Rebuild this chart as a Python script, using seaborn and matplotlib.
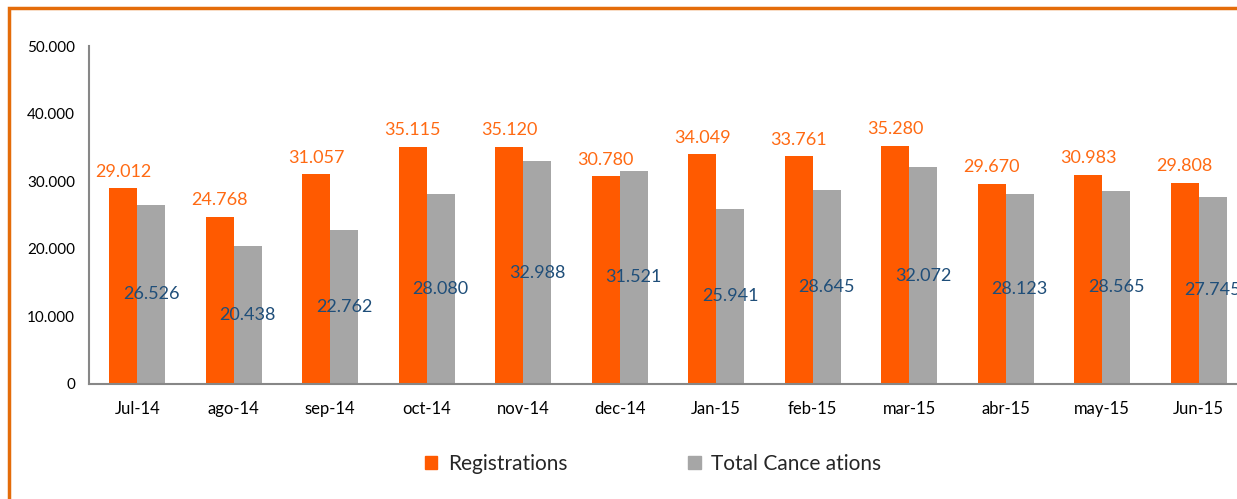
import matplotlib
matplotlib.use("Agg")
import matplotlib.pyplot as plt
import seaborn as sns
import pandas as pd
from matplotlib.patches import Rectangle
from matplotlib.ticker import FuncFormatter

months = ["Jul-14", "ago-14", "sep-14", "oct-14", "nov-14", "dec-14",
          "Jan-15", "feb-15", "mar-15", "abr-15", "may-15", "Jun-15"]
registrations = [29012, 24768, 31057, 35115, 35120, 30780,
                 34049, 33761, 35280, 29670, 30983, 29808]
cancellations = [26526, 20438, 22762, 28080, 32988, 31521,
                 25941, 28645, 32072, 28123, 28565, 27745]
series_names = ["Registrations", "Total Cance ations"]
y_ticks = [0, 10000, 20000, 30000, 40000, 50000]

df = pd.DataFrame({
    "month": months * 2,
    "value": registrations + cancellations,
    "series": [series_names[0]] * len(months) + [series_names[1]] * len(months),
})

sns.set_theme(style="white")
plt.rcParams["font.family"] = ["Lato", "DejaVu Sans"]

fig = plt.figure(figsize=(12.37, 4.99), dpi=100)
ax = fig.add_axes([0.072, 0.2305, 0.936, 0.677])

orange = "#FF5A00"
gray = "#A6A6A6"
sns.barplot(data=df, x="month", y="value", hue="series", order=months,
            hue_order=series_names, palette=[orange, gray], width=0.58,
            saturation=1, ax=ax, legend=False, linewidth=0, edgecolor="none")

fmt = lambda v: f"{v:,.0f}".replace(",", ".")
c_reg, c_can = ax.containers[0], ax.containers[1]
ax.bar_label(c_reg, labels=[fmt(v) for v in registrations], padding=6,
             color="#FF6A13", fontsize=13)
ax.bar_label(c_can, labels=[fmt(v) for v in cancellations], label_type="center",
             color="#1F4E79", fontsize=13)

ax.set_ylim(0, 50000)
ax.set_xlim(-0.5, len(months) - 0.5)
ax.set_yticks(y_ticks)
ax.yaxis.set_major_formatter(FuncFormatter(lambda v, p: fmt(v)))
ax.set_xlabel("")
ax.set_ylabel("")
for s in ["top", "right"]:
    ax.spines[s].set_visible(False)
for s in ["left", "bottom"]:
    ax.spines[s].set_color("#878787")
    ax.spines[s].set_linewidth(1.5)
ax.tick_params(axis="y", which="major", direction="out", length=6, width=1.5,
               color="#878787", labelsize=11, labelcolor="#000000", pad=4)
ax.tick_params(axis="x", which="major", length=0, labelsize=12,
               labelcolor="#000000", pad=12)
ax.set_xticks([i + 0.5 for i in range(-1, len(months))], minor=True)
ax.tick_params(axis="x", which="minor", direction="out", length=6, width=1.5,
               color="#878787")

handles = [Rectangle((0, 0), 1, 1, color=orange), Rectangle((0, 0), 1, 1, color=gray)]
fig.legend(handles, series_names, loc="center", bbox_to_anchor=(0.528, 0.07),
           ncol=2, frameon=False, fontsize=15, handlelength=0.6, handleheight=0.6,
           handletextpad=0.5, columnspacing=5.8)

border = Rectangle((9 / 1237, -0.1), 1.2, (499 - 8) / 499 + 0.1,
                   transform=fig.transFigure, fill=False, edgecolor="#E46C0A",
                   linewidth=2.5, clip_on=False)
fig.patches.append(border)

fig.savefig("out.png", dpi=100)
